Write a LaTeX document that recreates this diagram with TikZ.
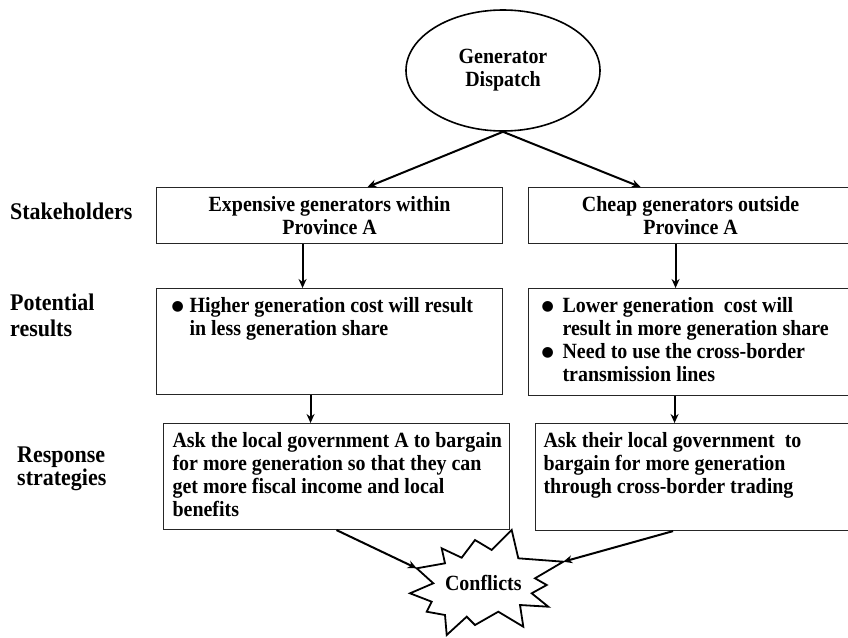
\documentclass[tikz,border=0pt]{standalone}
\usepackage{fontspec}
\setmainfont{Liberation Serif}[FakeStretch=0.92]
\newfontfamily\dejavu{DejaVu Sans}
\usetikzlibrary{arrows.meta,shapes.geometric}
\newcommand\bul{\makebox[18pt][l]{\raisebox{2.5pt}{\dejavu\fontsize{14}{14}\selectfont ●}}}
\newcommand\bulr{\makebox[21pt][l]{\raisebox{2.5pt}{\dejavu\fontsize{14}{14}\selectfont ●}}}
% #1 width, #2 height, #3 left pad, #4 top pad, #5 rows
\newcommand\boxtxt[5]{\parbox[c][#2][t]{#1}{\vspace*{#4}\hspace*{#3}\begin{tabular}[t]{@{}l@{}}#5\end{tabular}}}
\newcommand\boxtxtc[4]{\parbox[c][#2][t]{#1}{\vspace*{#3}\centering\begin{tabular}[t]{@{}c@{}}#4\end{tabular}\par}}
\begin{document}
\begin{tikzpicture}[x=1pt,y=-1pt,
  txt/.style={font=\fontsize{21.7}{23}\selectfont\bfseries},
  bx/.style={txt,draw=black!85,line width=1.1pt,inner sep=0pt,anchor=north west},
  lab/.style={font=\fontsize{23.9}{25}\selectfont\bfseries,inner sep=0pt},
  ell/.style={txt,draw,ellipse,line width=1.6pt,minimum width=194pt,minimum height=121pt,inner sep=0pt,align=center},
  arr/.style={draw,line width=2pt,-{Stealth[length=9pt,width=8pt]}},
  burst/.style={draw,line width=1.8pt,line join=miter}]
\useasboundingbox (0,0) rectangle (848,637);
\fill[white] (0,0) rectangle (848,637);

% side labels
\node[lab,anchor=base west] (l1) at (10,219) {Stakeholders};
\node[lab,anchor=base west] (l2) at (10,310.5) {\begin{tabular}[t]{@{}l@{}}Potential\\[1pt]results\end{tabular}};
\node[lab,anchor=base west] (l3) at (17,462) {\begin{tabular}[t]{@{}l@{}}Response\\[-2pt]strategies\end{tabular}};

% ellipse
\node[ell] (gd) at (503,70.5) {Generator\\Dispatch};

% stakeholders
\node[bx] (lsh) at (156,187) {\boxtxtc{346pt}{56pt}{8pt}{Expensive generators within\\Province A}};
\node[bx] (rsh) at (528,187) {\boxtxtc{324pt}{56pt}{8pt}{Cheap generators outside\\Province A}};

% potential results
\node[bx] (lpr) at (156,288) {\boxtxt{346pt}{106pt}{15pt}{8pt}{\bul Higher generation cost will result\\\hspace*{18pt}in less generation share}};
\node[bx] (rpr) at (528,288) {\boxtxt{324pt}{107pt}{13pt}{8pt}{\bulr Lower generation\ \ cost will\\\hspace*{21pt}result in more generation share\\\bulr Need to use the cross-border\\\hspace*{21pt}transmission lines}};

% response strategies
\node[bx] (lst) at (163,423) {\boxtxt{346pt}{106pt}{9pt}{8pt}{Ask the local government A to bargain\\for more generation so that they can\\get more fiscal income and local\\benefits}};
\node[bx] (rst) at (535,423) {\boxtxt{317pt}{107pt}{8pt}{8pt}{Ask their local government\ \ to\\bargain for more generation\\through cross-border trading}};

% conflicts burst
\draw[burst] (416.7,568.3) coordinate (sL) -- (445,563.3) -- (441.7,548.3) -- (461.7,557.7) -- (475,540) -- (491.7,550) -- (511.7,530) -- (518.3,558.3) -- (563.3,561.7) coordinate (sR) -- (535,578.3) -- (546.7,585) -- (531.7,593.3) -- (548.3,606.7) -- (520,605) -- (523.3,626.7) -- (498.3,611.7) -- (475,625) -- (466.7,616.7) -- (446.7,635) -- (445,615) -- (426.7,611.7) -- (431.7,601.7) -- (410,593.3) -- (433.3,583.3) -- cycle;
\node[txt,inner sep=0pt] (cf) at (483.3,583.3) {Conflicts};

% connectors
\draw[arr] (gd.south) -- ([xshift=38pt]lsh.north);
\draw[arr] (gd.south) -- ([xshift=-50pt]rsh.north);
\draw[arr] ([xshift=-27pt]lsh.south) -- ([xshift=-27pt]lpr.north);
\draw[arr] ([xshift=-15pt]rsh.south) -- ([xshift=-15pt]rpr.north);
\coordinate (a3) at ([xshift=-19pt]lpr.south);
\draw[arr] (a3) -- (a3 |- lst.north);
\coordinate (a4) at ([xshift=-16pt]rpr.south);
\draw[arr] (a4) -- (a4 |- rst.north);
\draw[arr] (lst.south) -- (sL);
\draw[arr] ([xshift=-21pt]rst.south) -- (sR);
\end{tikzpicture}
\end{document}
